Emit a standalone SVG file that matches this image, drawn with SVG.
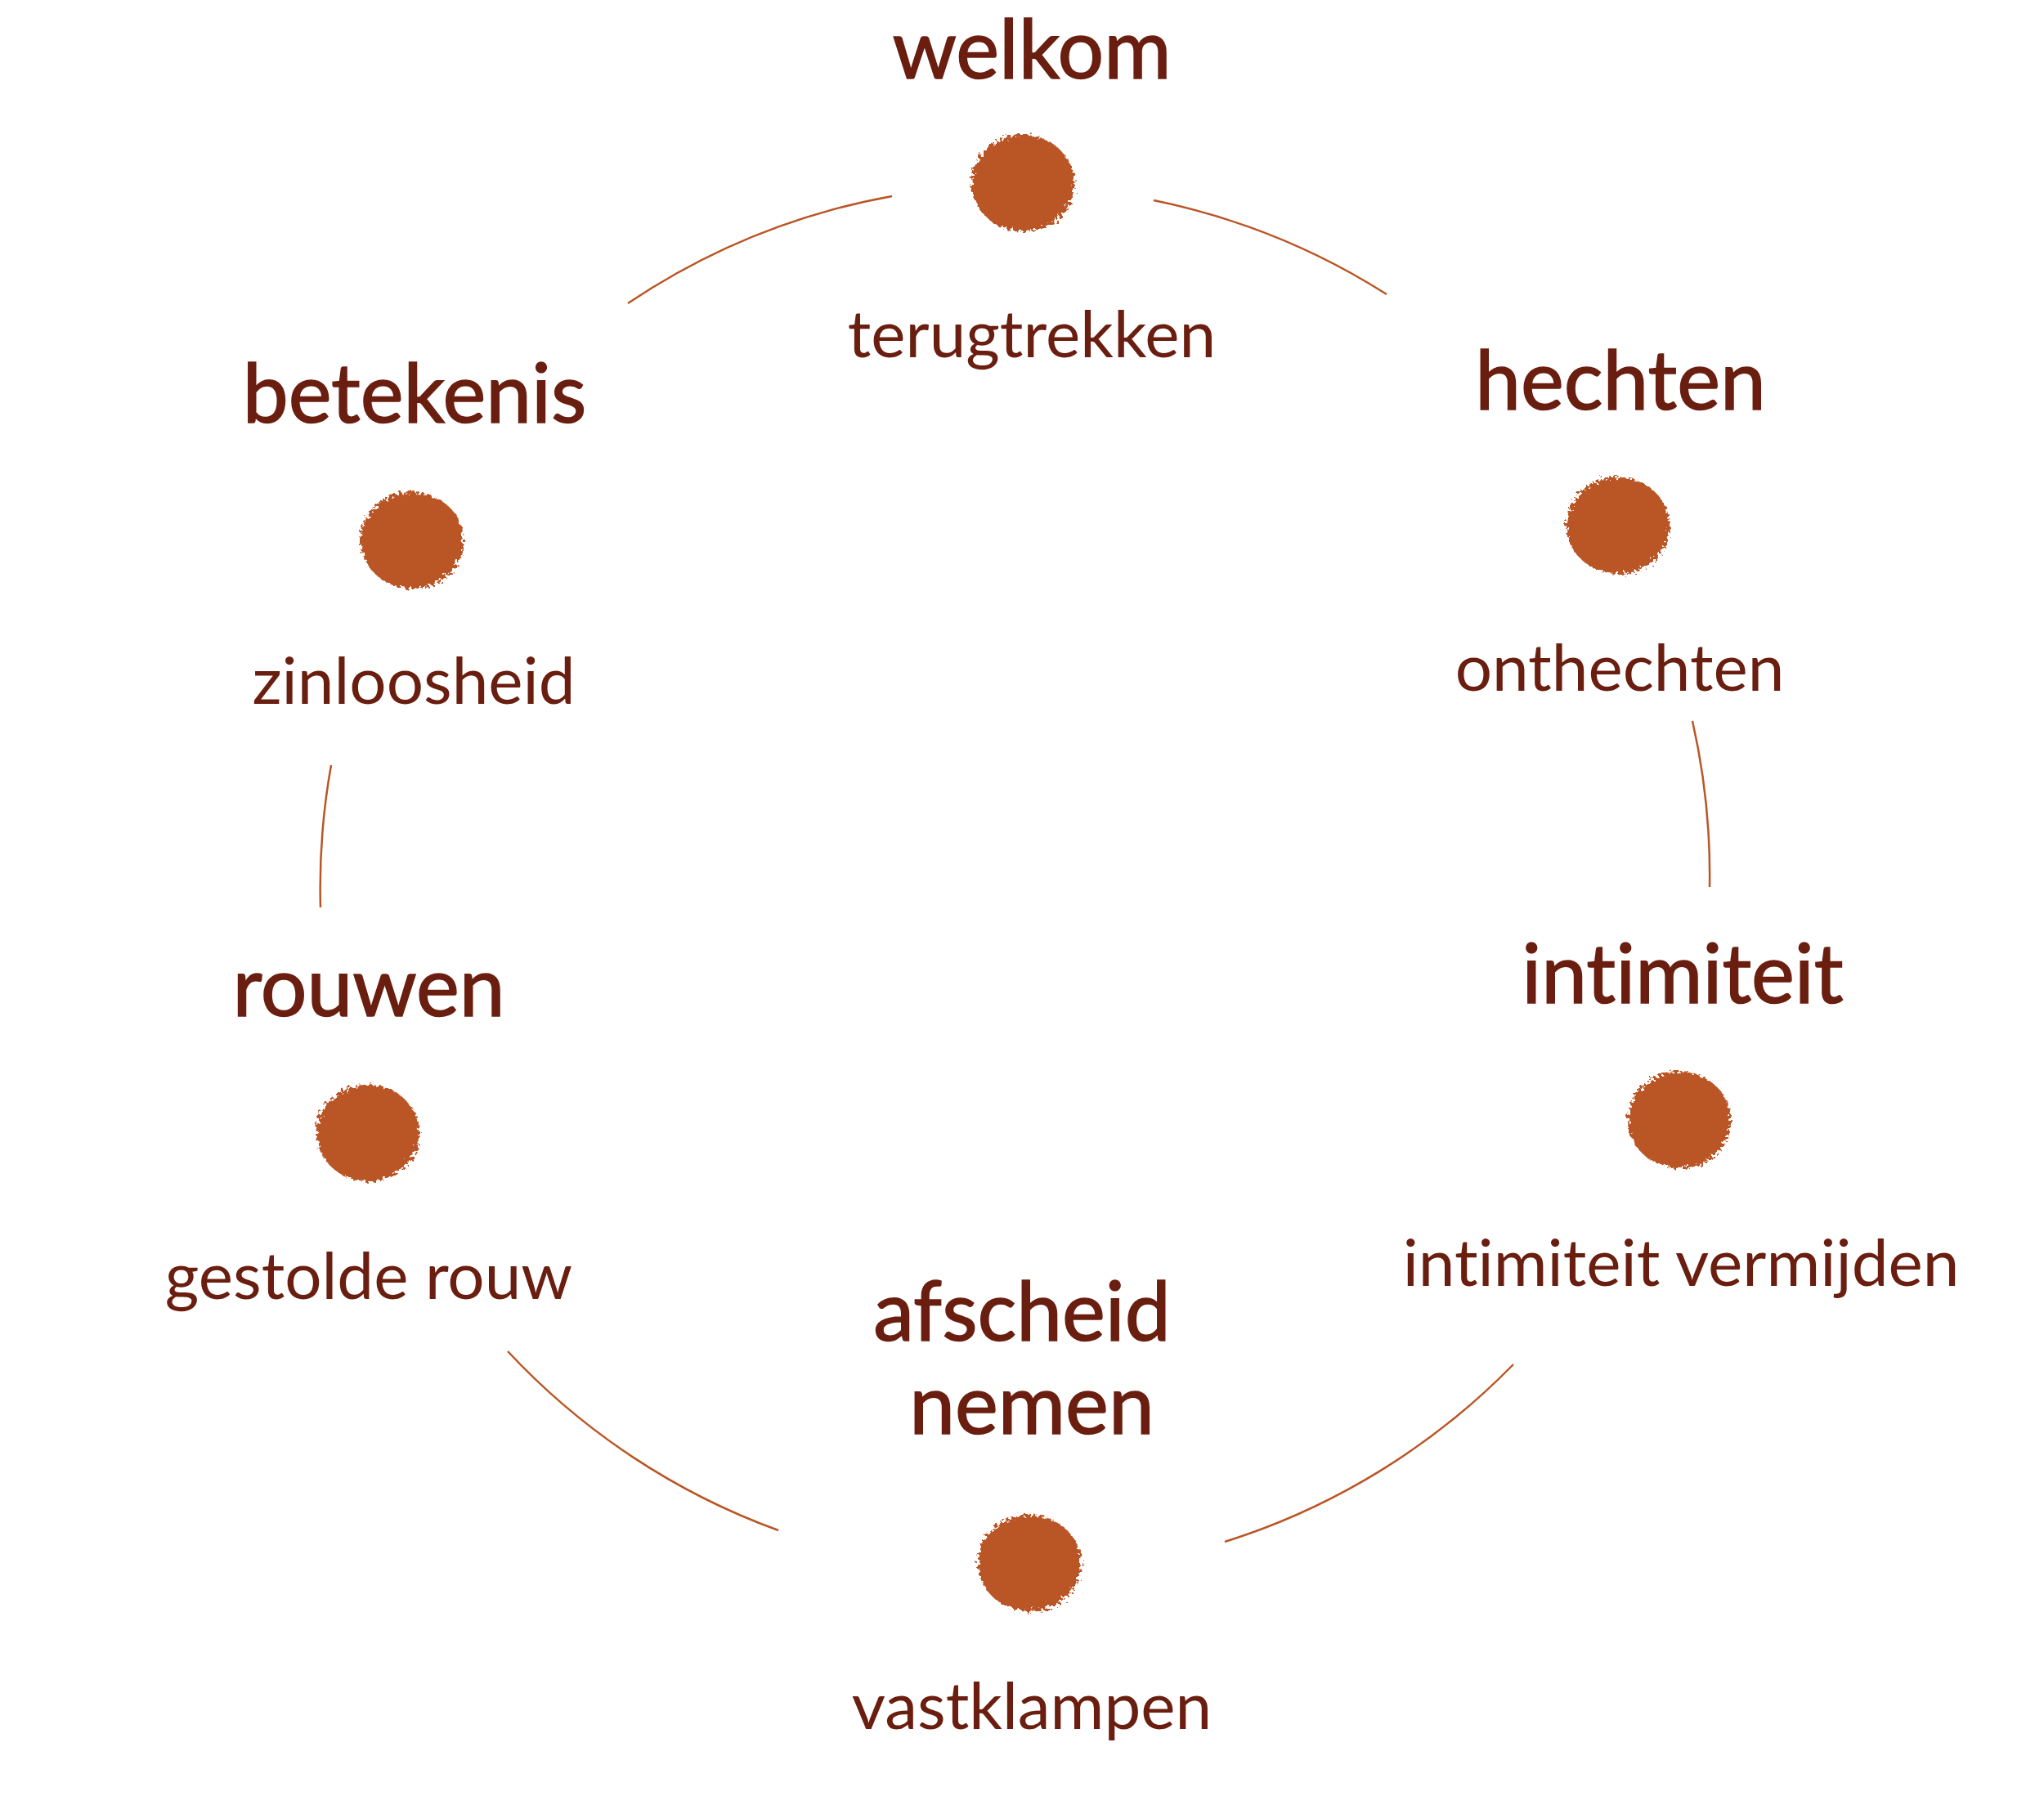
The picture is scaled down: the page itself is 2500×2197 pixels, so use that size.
<svg xmlns="http://www.w3.org/2000/svg" width="2500" height="2197" viewBox="0 0 2500 2197">
<style>
.t{font-family:Lato,"Liberation Sans",sans-serif;font-weight:400;font-size:100px;fill:#6A1E10;text-anchor:middle;font-variant-ligatures:none;stroke:#6A1E10;stroke-width:1.5}
.s{font-family:Lato,"Liberation Sans",sans-serif;font-weight:400;font-size:80px;fill:#6A1E10;text-anchor:middle;font-variant-ligatures:none}
.a{fill:none;stroke:#BA5525;stroke-width:2.5}
.d{fill:#BA5525;filter:url(#rough)}
</style>
<defs>
<filter id="rough" x="-30%" y="-30%" width="160%" height="160%">
<feTurbulence type="fractalNoise" baseFrequency="0.25" numOctaves="2" seed="3"/>
<feDisplacementMap in="SourceGraphic" scale="14"/>
</filter>
</defs>
<rect width="2500" height="2197" fill="#fff"/>
<g id="connectors">
<path class="a" d="M768,371 A850,850 0 0 1 1091,240"/>
<path class="a" d="M1411,245 A850,850 0 0 1 1696,360"/>
<path class="a" d="M2070,882 A850,850 0 0 1 2091,1085"/>
<path class="a" d="M1851,1669 A850,850 0 0 1 1498,1886"/>
<path class="a" d="M952,1872 A850,850 0 0 1 621,1653"/>
<path class="a" d="M392,1110 A850,850 0 0 1 405,936"/>
</g>
<g id="welkom"><text class="t" x="1262" y="96">welkom</text><ellipse class="d" cx="1251" cy="224" rx="63" ry="59"/><text class="s" x="1262" y="437">terugtrekken</text></g>
<g id="hechten"><text class="t" x="1982" y="501">hechten</text><ellipse class="d" cx="1979" cy="643" rx="63" ry="59"/><text class="s" x="1981" y="845">onthechten</text></g>
<g id="intimiteit"><text class="t" x="2058" y="1227">intimiteit</text><ellipse class="d" cx="2054" cy="1370" rx="63" ry="59"/><text class="s" x="2056" y="1573">intimiteit vermijden</text></g>
<g id="afscheid"><text class="t" x="1250" y="1640">afscheid</text><text class="t" x="1262" y="1754">nemen</text><ellipse class="d" cx="1259" cy="1912" rx="63" ry="59"/><text class="s" x="1262" y="2115">vastklampen</text></g>
<g id="rouwen"><text class="t" x="451" y="1243">rouwen</text><ellipse class="d" cx="450" cy="1386" rx="63" ry="59"/><text class="s" x="451" y="1589">gestolde rouw</text></g>
<g id="betekenis"><text class="t" x="507" y="517">betekenis</text><ellipse class="d" cx="504" cy="661" rx="63" ry="59"/><text class="s" x="506" y="861">zinloosheid</text></g>
</svg>
